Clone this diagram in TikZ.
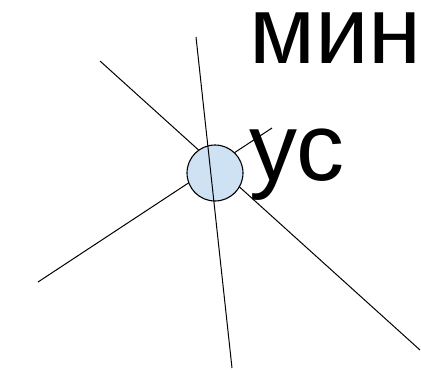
\documentclass[tikz,border=0pt]{standalone}
\usepackage{fontspec}
\setmainfont{Liberation Sans}
\usepackage{tikz}
\definecolor{DotFill}{HTML}{CFE2F3}
\begin{document}
\begin{tikzpicture}[x=1pt,y=-1pt,
  ray/.style={line width=1pt, black},
  dot/.style={circle, draw, line width=1.1pt, fill=DotFill, minimum size=56pt, inner sep=0pt}]
  \useasboundingbox (0,0) rectangle (421,370);
  % end points of the rays
  \coordinate (A1) at (100,61);
  \coordinate (A2) at (420,350);
  \coordinate (B1) at (38,282);
  \coordinate (B2) at (272,128);
  \coordinate (V1) at (196,37);
  \coordinate (V2) at (232,368);
  \draw[ray] (A1) -- (A2);
  \draw[ray] (B1) -- (B2);
  \node[dot] (c) at (215,173) {};
  \draw[ray] (V1) -- (V2);
  % label
  \node[anchor=base west, inner sep=0pt, align=left,
        font=\fontsize{96}{117}\selectfont] (lbl) at (249,180) {мин\\ус};
\end{tikzpicture}
\end{document}
